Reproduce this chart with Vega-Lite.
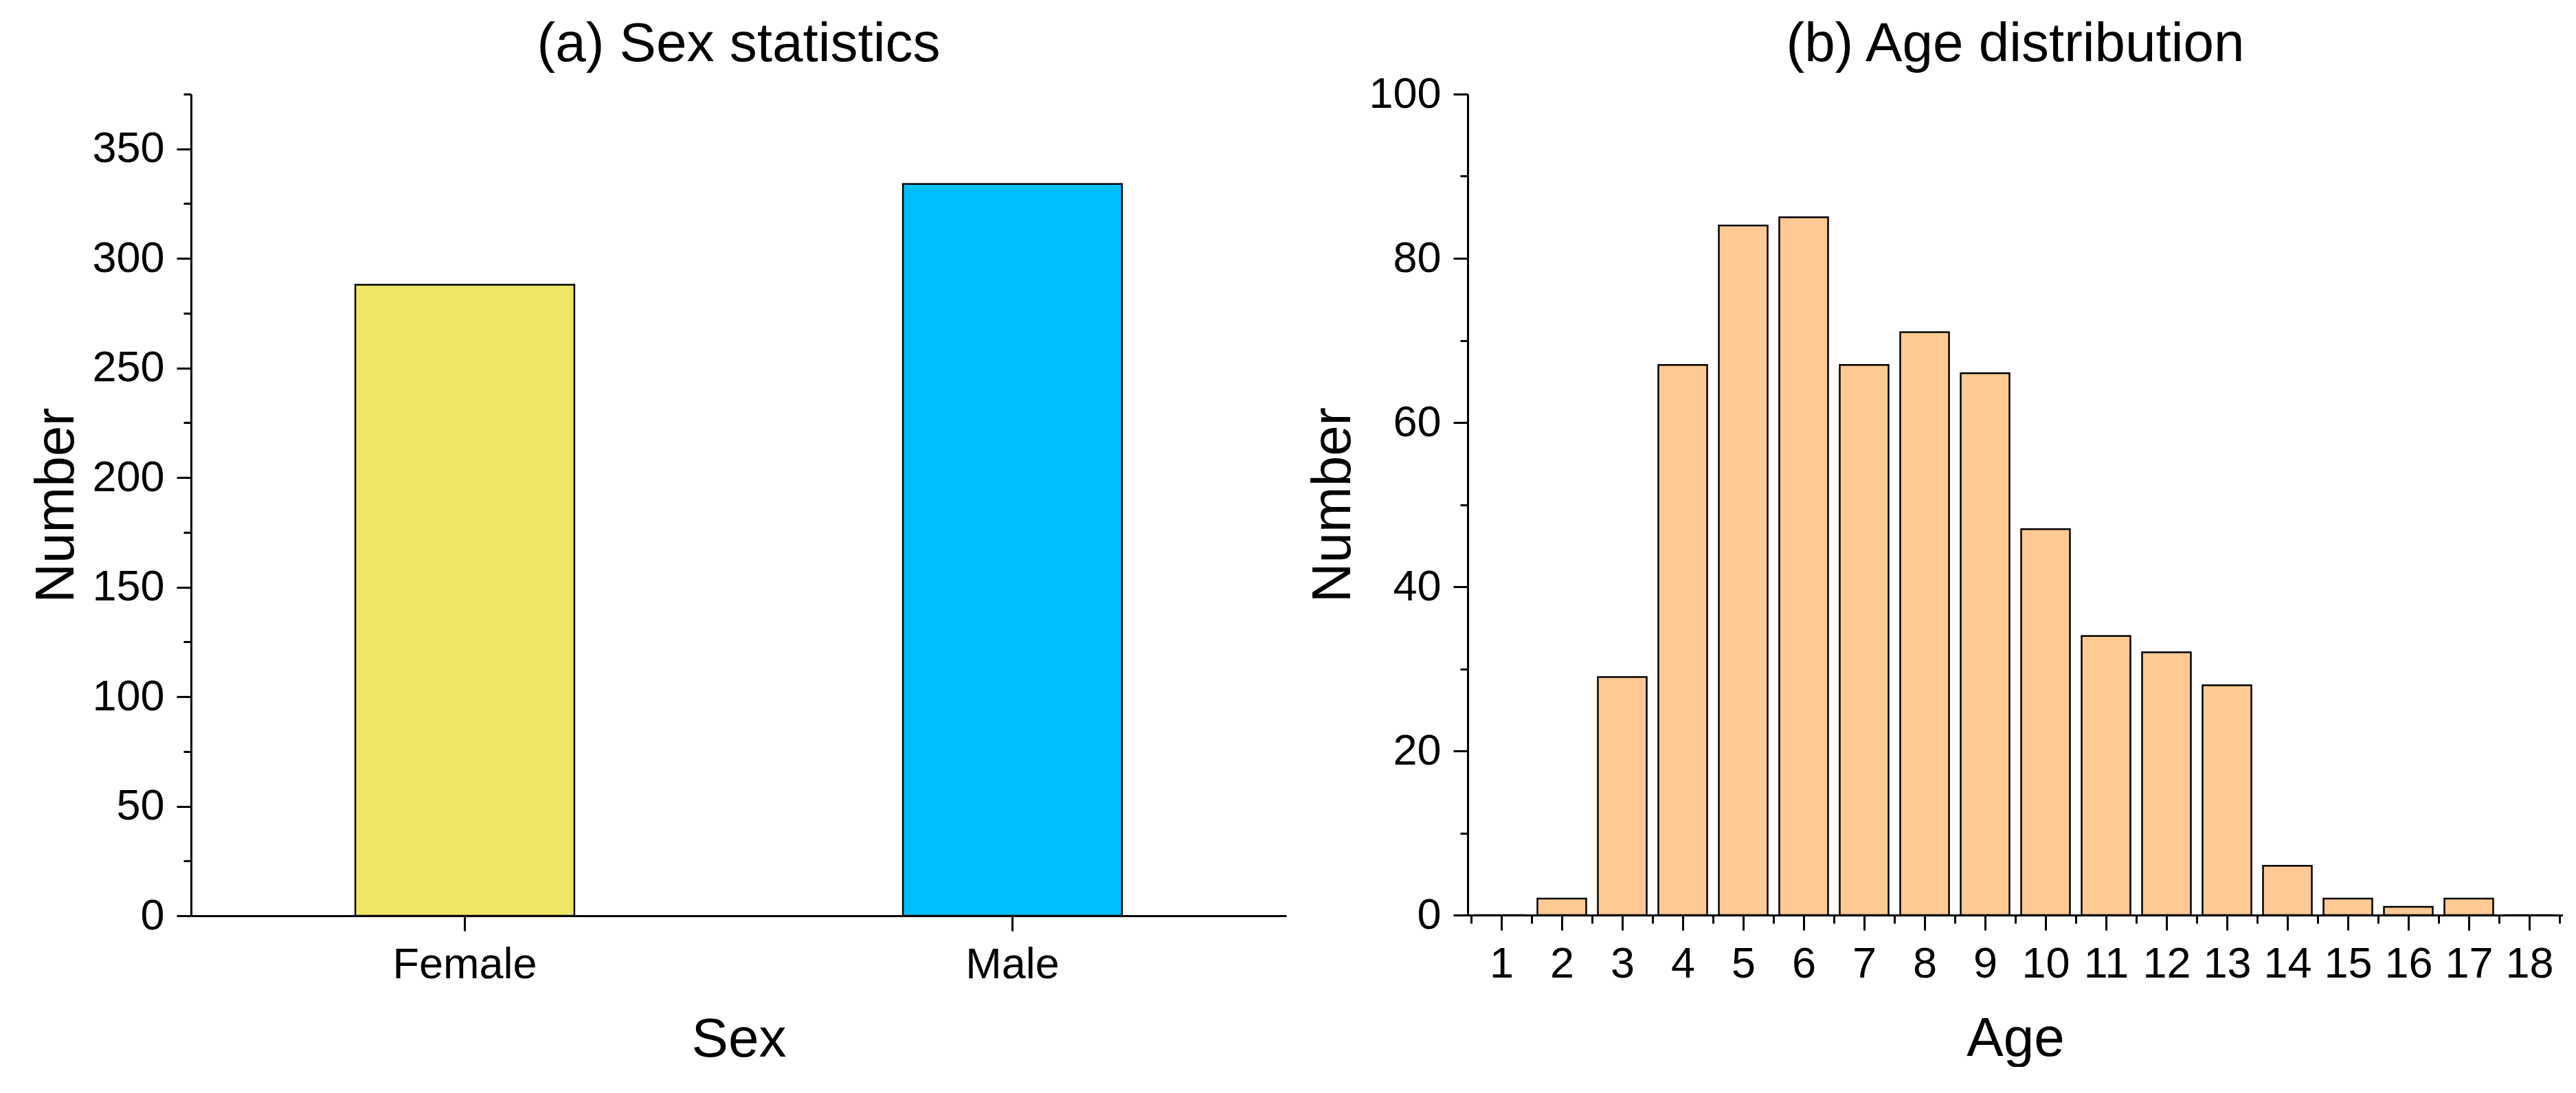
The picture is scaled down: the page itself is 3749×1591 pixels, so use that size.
{
  "$schema": "https://vega.github.io/schema/vega-lite/v6.json",
  "background": "white",
  "padding": {"left": 42, "top": 25, "right": 0, "bottom": 0},
  "bounds": "flush",
  "spacing": 264,
  "config": {
    "font": "Liberation Sans",
    "view": {"stroke": null},
    "axis": {
      "domainColor": "black", "domainWidth": 3, "tickColor": "black", "tickWidth": 3,
      "labelColor": "black", "titleColor": "black", "grid": false,
      "labelFont": "Liberation Sans", "titleFont": "Liberation Sans",
      "labelFontSize": 63, "titleFontSize": 80, "titleFontWeight": "normal",
      "labelOverlap": false, "labelFlush": false, "labelLimit": 1000
    },
    "title": {"font": "Liberation Sans", "fontSize": 80, "fontWeight": "normal", "color": "black", "frame": "group", "anchor": "middle", "baseline": "alphabetic", "offset": 0}
  },
  "hconcat": [
    {
      "width": 1594, "height": 1196,
      "title": {"text": "(a) Sex statistics", "offset": 0},
      "data": {"values": [
        {"Sex": "Female", "Number": 288},
        {"Sex": "Male", "Number": 334}
      ]},
      "mark": {"type": "bar", "stroke": "black", "strokeWidth": 2.5},
      "encoding": {
        "x": {"field": "Sex", "type": "nominal", "sort": ["Female", "Male"],
          "scale": {"paddingInner": 0.6, "paddingOuter": 0.3},
          "axis": {"labelAngle": 0, "title": "Sex", "tickSize": 22, "labelPadding": 18, "titlePadding": 38}},
        "y": {"field": "Number", "type": "quantitative",
          "scale": {"domain": [0, 375], "nice": false},
          "axis": {"title": "Number", "values": [0,25,50,75,100,125,150,175,200,225,250,275,300,325,350,375],
            "labelExpr": "datum.value % 50 === 0 ? datum.label : ''",
            "tickSize": {"condition": {"test": "datum.value % 50 === 0", "value": 21}, "value": 11},
            "labelPadding": 18, "titlePadding": 10}},
        "color": {"field": "Sex", "type": "nominal",
          "scale": {"domain": ["Female", "Male"], "range": ["#EFE667", "#00BFFF"]}, "legend": null}
      }
    },
    {
      "width": 1594, "height": 1195,
      "title": {"text": "(b) Age distribution", "offset": 0},
      "data": {"values": [
        {"Age": 1, "Number": 0},
        {"Age": 2, "Number": 2},
        {"Age": 3, "Number": 29},
        {"Age": 4, "Number": 67},
        {"Age": 5, "Number": 84},
        {"Age": 6, "Number": 85},
        {"Age": 7, "Number": 67},
        {"Age": 8, "Number": 71},
        {"Age": 9, "Number": 66},
        {"Age": 10, "Number": 47},
        {"Age": 11, "Number": 34},
        {"Age": 12, "Number": 32},
        {"Age": 13, "Number": 28},
        {"Age": 14, "Number": 6},
        {"Age": 15, "Number": 2},
        {"Age": 16, "Number": 1},
        {"Age": 17, "Number": 2},
        {"Age": 18, "Number": 0}
      ]},
      "mark": {"type": "bar", "stroke": "black", "strokeWidth": 2.5, "fill": "#FFC994", "width": 71},
      "encoding": {
        "x": {"field": "Age", "type": "quantitative",
          "scale": {"domain": [0.5, 18.5], "nice": false, "zero": false},
          "axis": {"title": "Age",
            "values": [0.5,1,1.5,2,2.5,3,3.5,4,4.5,5,5.5,6,6.5,7,7.5,8,8.5,9,9.5,10,10.5,11,11.5,12,12.5,13,13.5,14,14.5,15,15.5,16,16.5,17,17.5,18,18.5],
            "labelExpr": "datum.value % 1 === 0 ? format(datum.value, 'd') : ''",
            "tickSize": {"condition": {"test": "datum.value % 1 === 0", "value": 22}, "value": 12},
            "labelPadding": 18, "titlePadding": 38}},
        "y": {"field": "Number", "type": "quantitative",
          "scale": {"domain": [0, 100], "nice": false},
          "axis": {"title": "Number", "values": [0,10,20,30,40,50,60,70,80,90,100],
            "labelExpr": "datum.value % 20 === 0 ? datum.label : ''",
            "tickSize": {"condition": {"test": "datum.value % 20 === 0", "value": 21}, "value": 11},
            "labelPadding": 18, "titlePadding": 10}}
      }
    }
  ]
}
